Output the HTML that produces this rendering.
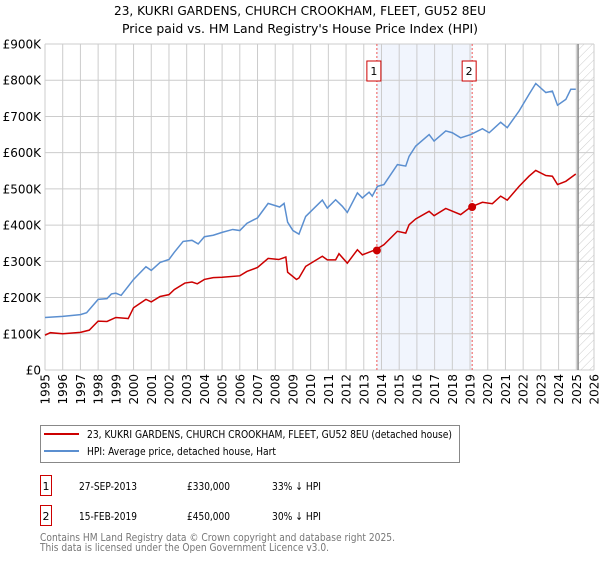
<!DOCTYPE html>
<html><head><meta charset="utf-8"><style>
body{margin:0;background:#fff;font-family:"Liberation Sans","DejaVu Sans",sans-serif;}
svg text{font-family:"DejaVu Sans","Liberation Sans",sans-serif;}
</style></head><body>
<svg id="chart" width="600" height="560" xmlns="http://www.w3.org/2000/svg">
<defs><pattern id="hatch" patternUnits="userSpaceOnUse" width="6" height="6" patternTransform="rotate(45)"><line x1="0" y1="0" x2="0" y2="6" stroke="#ccc" stroke-width="1"/></pattern></defs>
<text x="300" y="15" text-anchor="middle" font-size="12.5" textLength="372" lengthAdjust="spacingAndGlyphs">23, KUKRI GARDENS, CHURCH CROOKHAM, FLEET, GU52 8EU</text>
<text x="300" y="33" text-anchor="middle" font-size="12.5" textLength="356" lengthAdjust="spacingAndGlyphs">Price paid vs. HM Land Registry's House Price Index (HPI)</text>
<g id="plot"></g>
<g>
<rect x="40.5" y="425.5" width="419" height="37" fill="#fff" stroke="#888"/>
<line x1="44" y1="434" x2="79" y2="434" stroke="#cc0000" stroke-width="2"/>
<text x="87" y="438" font-size="11" textLength="365" lengthAdjust="spacingAndGlyphs">23, KUKRI GARDENS, CHURCH CROOKHAM, FLEET, GU52 8EU (detached house)</text>
<line x1="44" y1="451" x2="79" y2="451" stroke="#5b8fd0" stroke-width="2"/>
<text x="87" y="455" font-size="11" textLength="189" lengthAdjust="spacingAndGlyphs">HPI: Average price, detached house, Hart</text>
</g>
<g font-size="11">
<rect x="40.5" y="475.5" width="11" height="20" fill="#fff" stroke="#cc0000"/>
<text x="46" y="490" text-anchor="middle">1</text>
<text x="79" y="490" textLength="58" lengthAdjust="spacingAndGlyphs">27-SEP-2013</text><text x="187" y="490" textLength="43" lengthAdjust="spacingAndGlyphs">£330,000</text><text x="272" y="490" textLength="49" lengthAdjust="spacingAndGlyphs">33% ↓ HPI</text>
<rect x="40.5" y="505.5" width="11" height="20" fill="#fff" stroke="#cc0000"/>
<text x="46" y="520" text-anchor="middle">2</text>
<text x="79" y="520" textLength="58" lengthAdjust="spacingAndGlyphs">15-FEB-2019</text><text x="187" y="520" textLength="43" lengthAdjust="spacingAndGlyphs">£450,000</text><text x="272" y="520" textLength="49" lengthAdjust="spacingAndGlyphs">30% ↓ HPI</text>
</g>
<text x="40" y="541" font-size="10.5" fill="#777" textLength="355" lengthAdjust="spacingAndGlyphs">Contains HM Land Registry data © Crown copyright and database right 2025.</text>
<text x="40" y="551" font-size="10.5" fill="#777" textLength="289" lengthAdjust="spacingAndGlyphs">This data is licensed under the Open Government Licence v3.0.</text>
</svg>
<script>
const hpiYears=[1995,1996,1997,1997.35,1998,1998.5,1998.75,1999,1999.3,2000,2000.7,2001,2001.5,2002,2002.3,2002.8,2003.3,2003.65,2004,2004.5,2005,2005.6,2006,2006.4,2007,2007.6,2008.25,2008.5,2008.7,2009,2009.34,2009.72,2010.66,2010.94,2011.41,2011.79,2012.07,2012.64,2012.92,2013.3,2013.48,2013.77,2014.14,2014.9,2015.37,2015.56,2015.93,2016.69,2016.97,2017.63,2018.0,2018.47,2019.04,2019.7,2020.08,2020.73,2021.1,2021.77,2022.33,2022.71,2023.28,2023.65,2023.94,2024.41,2024.69,2024.97];
const hpiValues=[145,148,153,158,195,197,210,212,206,250,285,275,297,305,325,355,358,348,368,372,380,388,385,405,420,460,450,460,408,385,375,424,469,447,470,452,435,489,475,491,480,507,512,567,563,590,618,650,632,660,655,641,650,666,655,684,669,715,761,791,766,770,731,747,775,775];
const priceYears=[1995,1995.3,1996,1997,1997.5,1998,1998.5,1999,1999.7,2000,2000.7,2001,2001.5,2002,2002.3,2002.9,2003.3,2003.6,2004,2004.5,2005,2006,2006.4,2007,2007.6,2008.2,2008.6,2008.7,2009.2,2009.34,2009.72,2010.66,2010.94,2011.41,2011.6,2012.07,2012.64,2012.92,2013.67,2014.14,2014.9,2015.37,2015.56,2015.93,2016.69,2016.97,2017.63,2018.47,2019.04,2019.7,2020.26,2020.73,2021.1,2021.77,2022.33,2022.71,2023.28,2023.65,2023.94,2024.41,2024.97];
const priceValues=[96,103,100,104,110,135,134,145,142,172,195,188,203,208,222,240,243,238,250,255,256,260,272,283,308,305,312,270,250,254,286,314,304,304,321,295,332,318,332,346,383,378,401,417,438,426,446,429,450,463,459,480,469,507,535,551,537,535,512,521,541];
const saleLabels=["1","2"];
const saleYears=[2013.74,2019.12];
const saleValues=[330,450];
const yTicks=[0,100,200,300,400,500,600,700,800,900];
const yTickLabels=["£0","£100K","£200K","£300K","£400K","£500K","£600K","£700K","£800K","£900K"];
const xTicks=[1995,1996,1997,1998,1999,2000,2001,2002,2003,2004,2005,2006,2007,2008,2009,2010,2011,2012,2013,2014,2015,2016,2017,2018,2019,2020,2021,2022,2023,2024,2025,2026];
const dataEnd=2025.1;
const X0=45,X1=594,Y0=370,Y1=44;
const xS=y=>X0+(y-1995)/(2026-1995)*(X1-X0);
const yS=v=>Y0-v/900*(Y0-Y1);
const NS="http://www.w3.org/2000/svg";
const g=document.getElementById('plot');
function mk(t,a,p){const e=document.createElementNS(NS,t);for(const k in a)e.setAttribute(k,a[k]);(p||g).appendChild(e);return e;}
let e;
e=mk('rect',{x:xS(saleYears[0]),y:Y1,width:xS(saleYears[1])-xS(saleYears[0]),height:Y0-Y1,fill:'#eef3fc',opacity:0.8});


e=mk('rect',{x:xS(dataEnd),y:Y1,width:X1-xS(dataEnd),height:Y0-Y1,fill:'url(#hatch)'});


yTicks.forEach((t,i)=>{
 e=mk('line',{x1:X0,x2:X1,y1:yS(t),y2:yS(t),stroke:'#cccccc'});
 
 
 e=mk('text',{x:X0-4,y:yS(t)+4.5,'text-anchor':'end','font-size':12});
 
 
 e.textContent=yTickLabels[i];
});
xTicks.forEach(t=>{
 e=mk('line',{x1:xS(t),x2:xS(t),y1:Y1,y2:Y0,stroke:'#cccccc'});
 
 
 const x=xS(t)+4.5;
 e=mk('text',{x:x,y:Y0+4,'text-anchor':'end','font-size':12,transform:`rotate(-90 ${x} ${Y0+4})`});
 
 
 e.textContent=t;
});
e=mk('line',{x1:xS(dataEnd),x2:xS(dataEnd),y1:Y1,y2:Y0,stroke:'#888','stroke-width':1.5});


saleYears.forEach((s,i)=>{
 e=mk('line',{x1:xS(s),x2:xS(s),y1:Y1,y2:Y0,stroke:'#ee5555','stroke-dasharray':'2,2'});
 
 
 e=mk('rect',{x:xS(s)-10,y:61,width:14,height:20,fill:'#fff',stroke:'#cc0000'});
 
 
 e=mk('text',{x:xS(s)-3,y:75,'text-anchor':'middle','font-size':11});
 
 
 e.textContent=saleLabels[i];
});
e=mk('polyline',{points:hpiYears.map((y,i)=>xS(y)+','+yS(hpiValues[i])).join(' '),fill:'none',stroke:'#5b8fd0','stroke-width':1.5});


e=mk('polyline',{points:priceYears.map((y,i)=>xS(y)+','+yS(priceValues[i])).join(' '),fill:'none',stroke:'#cc0000','stroke-width':1.5});


saleYears.forEach((s,i)=>{
 e=mk('circle',{cx:xS(s),cy:yS(saleValues[i]),r:4,fill:'#cc0000'});
 
 
});
</script>
</body></html>
